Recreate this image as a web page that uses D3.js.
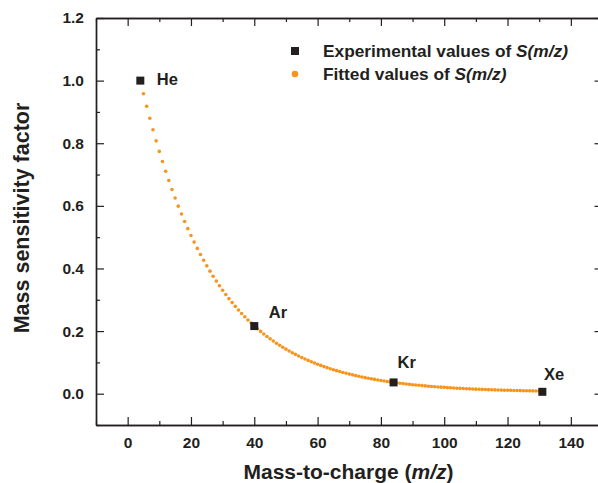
<!DOCTYPE html>
<html>
<head>
<meta charset="utf-8">
<script src="https://cdn.jsdelivr.net/npm/d3@7"></script>
<style>
  html, body { margin: 0; padding: 0; background: #ffffff; }
  svg { display: block; }
  text { font-family: "Liberation Sans", Arial, Helvetica, sans-serif; font-weight: bold; fill: #231f20; }
</style>
</head>
<body>
<script>
// Measured sensitivity factors for the noble gases
const gases = ["He", "Ar", "Kr", "Xe"];
const gasMz = [4, 40, 84, 131];
const gasS = [1.0, 0.216, 0.036, 0.006];

// Fitted S(m/z), one value per unit of m/z starting at m/z = 5
const fitStartMz = 5;
const fitS = [
  0.9582, 0.9181, 0.8797, 0.8429, 0.8076, 0.7739, 0.7415, 0.7106, 0.6809, 0.6524,
  0.6252, 0.5991, 0.5741, 0.5502, 0.5272, 0.5052, 0.4842, 0.4640, 0.4447, 0.4262,
  0.4084, 0.3914, 0.3752, 0.3596, 0.3446, 0.3303, 0.3166, 0.3035, 0.2909, 0.2788,
  0.2673, 0.2562, 0.2456, 0.2355, 0.2258, 0.2164, 0.2075, 0.1990, 0.1908, 0.1829,
  0.1754, 0.1682, 0.1613, 0.1547, 0.1484, 0.1423, 0.1365, 0.1309, 0.1256, 0.1205,
  0.1156, 0.1109, 0.1064, 0.1021, 0.0980, 0.0940, 0.0903, 0.0866, 0.0832, 0.0798,
  0.0767, 0.0736, 0.0707, 0.0679, 0.0652, 0.0626, 0.0602, 0.0578, 0.0555, 0.0534,
  0.0513, 0.0493, 0.0474, 0.0456, 0.0438, 0.0422, 0.0406, 0.0390, 0.0376, 0.0361,
  0.0348, 0.0335, 0.0323, 0.0311, 0.0299, 0.0288, 0.0278, 0.0268, 0.0258, 0.0249,
  0.0240, 0.0232, 0.0224, 0.0216, 0.0209, 0.0202, 0.0195, 0.0188, 0.0182, 0.0176,
  0.0171, 0.0165, 0.0160, 0.0155, 0.0150, 0.0145, 0.0141, 0.0137, 0.0133, 0.0129,
  0.0125, 0.0121, 0.0118, 0.0115, 0.0112, 0.0109, 0.0106, 0.0103, 0.0100, 0.0098,
  0.0095, 0.0093, 0.0091, 0.0089, 0.0087, 0.0085, 0.0083
];

// Axis ticks
const xTicks = [0, 20, 40, 60, 80, 100, 120, 140];
const xMinorTicks = [-10, 10, 30, 50, 70, 90, 110, 130, 150];
const yTicks = [0.0, 0.2, 0.4, 0.6, 0.8, 1.0, 1.2];
const yMinorTicks = [-0.1, 0.1, 0.3, 0.5, 0.7, 0.9, 1.1];

const W = 598, H = 483;
const ink = "#231f20";
const orange = "#f7941d";

const svg = d3.select("body").append("svg")
  .attr("width", W).attr("height", H);

const x = d3.scaleLinear().domain([-10, 150]).range([96, 602.5]);
const y = d3.scaleLinear().domain([-0.1, 1.2]).range([425, 18]);

// Axes: ticks point into the plot on all four sides
function styleAxis(g) {
  g.selectAll("path.domain").attr("stroke", ink).attr("stroke-width", 1.4);
  g.selectAll(".tick line").attr("stroke", ink).attr("stroke-width", 1.2);
  g.selectAll(".tick text")
    .attr("font-family", "Liberation Sans, Arial, sans-serif")
    .attr("font-weight", "bold")
    .attr("font-size", 15.5)
    .attr("fill", ink);
}

const fmtY = d3.format(".1f");
const fmtX = d3.format("d");

svg.append("g").attr("transform", `translate(0,${y(-0.1)})`)
  .call(d3.axisBottom(x).tickValues(xTicks).tickFormat(fmtX)
    .tickSizeInner(-8).tickSizeOuter(0).tickPadding(12))
  .call(styleAxis);
svg.append("g").attr("transform", `translate(0,${y(-0.1)})`)
  .call(d3.axisBottom(x).tickValues(xMinorTicks).tickFormat("")
    .tickSizeInner(-4).tickSizeOuter(0))
  .call(styleAxis);

svg.append("g").attr("transform", `translate(0,${y(1.2)})`)
  .call(d3.axisTop(x).tickValues(xTicks).tickFormat("")
    .tickSizeInner(-8).tickSizeOuter(0))
  .call(styleAxis);
svg.append("g").attr("transform", `translate(0,${y(1.2)})`)
  .call(d3.axisTop(x).tickValues(xMinorTicks).tickFormat("")
    .tickSizeInner(-4).tickSizeOuter(0))
  .call(styleAxis);

svg.append("g").attr("transform", `translate(${x(-10)},0)`)
  .call(d3.axisLeft(y).tickValues(yTicks).tickFormat(fmtY)
    .tickSizeInner(-8).tickSizeOuter(0).tickPadding(12))
  .call(styleAxis);
svg.append("g").attr("transform", `translate(${x(-10)},0)`)
  .call(d3.axisLeft(y).tickValues(yMinorTicks).tickFormat("")
    .tickSizeInner(-4).tickSizeOuter(0))
  .call(styleAxis);

svg.append("g").attr("transform", `translate(${x(150)},0)`)
  .call(d3.axisRight(y).tickValues(yTicks).tickFormat("")
    .tickSizeInner(-8).tickSizeOuter(0))
  .call(styleAxis);
svg.append("g").attr("transform", `translate(${x(150)},0)`)
  .call(d3.axisRight(y).tickValues(yMinorTicks).tickFormat("")
    .tickSizeInner(-4).tickSizeOuter(0))
  .call(styleAxis);

// Fitted curve drawn as a dotted series
const fitData = fitS.map((s, i) => ({ mz: fitStartMz + i, s }));
svg.append("g").selectAll("circle")
  .data(fitData)
  .join("circle")
  .attr("cx", d => x(d.mz))
  .attr("cy", d => y(d.s))
  .attr("r", 1.8)
  .attr("fill", orange);

// Experimental points
const expData = gases.map((g, i) => ({ gas: g, mz: gasMz[i], s: gasS[i] }));
const sq = 8;
svg.append("g").selectAll("rect")
  .data(expData)
  .join("rect")
  .attr("x", d => x(d.mz) - sq / 2)
  .attr("y", d => y(d.s) - sq / 2)
  .attr("width", sq).attr("height", sq)
  .attr("fill", ink);

// Gas labels beside each point
const labelShift = { He: [16.5, -1.3], Ar: [14.5, -13.6], Kr: [4, -20.4], Xe: [1.7, -17.8] };
svg.append("g").selectAll("text")
  .data(expData)
  .join("text")
  .attr("x", d => x(d.mz) + labelShift[d.gas][0])
  .attr("y", d => y(d.s) + labelShift[d.gas][1])
  .attr("dy", "0.35em")
  .attr("font-size", 16.5)
  .text(d => d.gas);

// Legend
const legend = svg.append("g");
legend.append("rect").attr("x", 291).attr("y", 47).attr("width", 8).attr("height", 8).attr("fill", ink);
legend.append("circle").attr("cx", 295).attr("cy", 74).attr("r", 3.3).attr("fill", orange);
const l1 = legend.append("text").attr("x", 323).attr("y", 51).attr("dy", "0.35em").attr("font-size", 17.3);
l1.append("tspan").text("Experimental values of ");
l1.append("tspan").attr("font-style", "italic").text("S(m/z)");
const l2 = legend.append("text").attr("x", 323).attr("y", 74).attr("dy", "0.35em").attr("font-size", 17.3);
l2.append("tspan").text("Fitted values of ");
l2.append("tspan").attr("font-style", "italic").text("S(m/z)");

// Axis titles
svg.append("text")
  .attr("transform", "translate(29,218) rotate(-90)")
  .attr("text-anchor", "middle")
  .attr("font-size", 21.5)
  .text("Mass sensitivity factor");

const xt = svg.append("text")
  .attr("x", 348.5)
  .attr("y", 479)
  .attr("text-anchor", "middle")
  .attr("font-size", 21);
xt.append("tspan").text("Mass-to-charge (");
xt.append("tspan").attr("font-style", "italic").text("m/z");
xt.append("tspan").text(")");
</script>
</body>
</html>
